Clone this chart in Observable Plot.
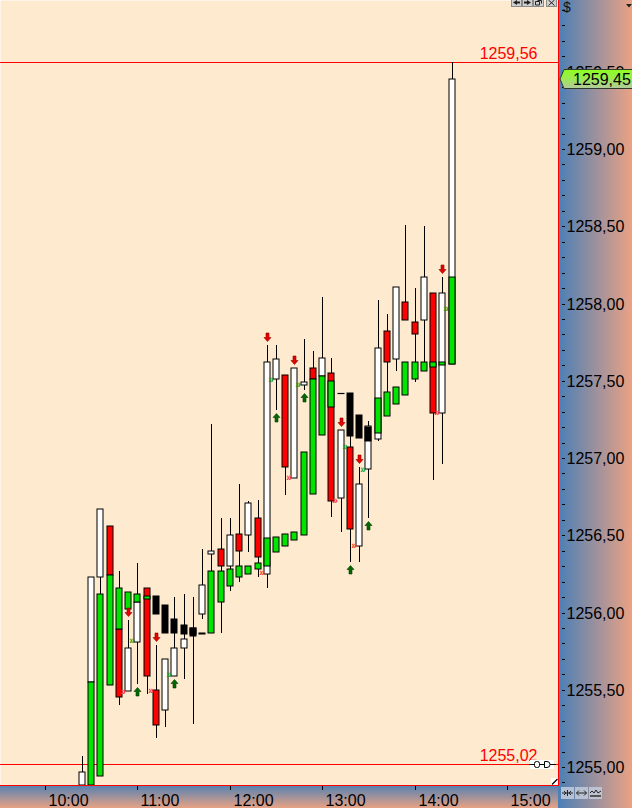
<!DOCTYPE html>
<html>
<head>
<meta charset="utf-8">
<script src="https://cdn.jsdelivr.net/npm/d3@7"></script>
<script src="https://cdn.jsdelivr.net/npm/@observablehq/plot@0.6"></script>
<style>
  html, body { margin: 0; padding: 0; background: #fff; }
  #chart { width: 632px; height: 808px; overflow: hidden; }
</style>
</head>
<body>
<div id="chart"></div>
<script>
// 6-minute bars, session of the day
const barTimes = [
  "10:24", "10:30", "10:36", "10:42", "10:48", "10:54",
  "11:00", "11:06", "11:12", "11:18", "11:24", "11:30", "11:36", "11:42", "11:48", "11:54",
  "12:00", "12:06", "12:12", "12:18", "12:24", "12:30", "12:36", "12:42", "12:48", "12:54",
  "13:00", "13:06", "13:12", "13:18", "13:24", "13:30", "13:36", "13:42", "13:48", "13:54",
  "14:00", "14:06", "14:12", "14:18", "14:24"
];

// Main price candles (white = up, red = down)
const mainOpen = [1254.80, 1255.55, 1256.23, 1256.56, 1255.89, 1255.49, 1255.81, 1256.16, 1255.50, 1255.37,
  1255.59, 1255.77, 1255.86, 1255.99, 1256.38, 1256.41, 1256.30, 1256.51, 1256.50, 1256.61,
  1256.25, 1257.51, 1257.54, 1256.87, 1257.47, 1257.58, 1257.53, 1257.55, 1256.74, 1257.07,
  1256.43, 1256.93, 1257.12, 1257.82, 1257.64, 1258.01, 1257.88, 1257.89, 1258.07, 1257.29, 1257.61];
const mainClose = [1254.97, 1256.23, 1256.67, 1256.24, 1255.45, 1255.77, 1256.07, 1255.59, 1255.27, 1255.70,
  1255.77, 1255.83, 1255.90, 1256.18, 1256.40, 1256.30, 1256.50, 1256.40, 1256.71, 1256.36,
  1257.62, 1257.64, 1256.94, 1257.58, 1257.49, 1257.51, 1257.65, 1256.72, 1257.18, 1256.54,
  1256.83, 1257.21, 1257.71, 1257.62, 1258.11, 1257.89, 1257.80, 1258.17, 1257.29, 1258.07, 1259.45];
const mainHigh = [1255.07, 1256.23, 1256.67, 1256.56, 1256.27, 1255.95, 1256.32, 1256.16, 1255.79, 1255.70,
  1256.10, 1256.12, 1256.10, 1256.41, 1257.22, 1256.61, 1256.61, 1256.83, 1256.72, 1256.73,
  1257.73, 1257.73, 1257.54, 1257.58, 1257.77, 1257.69, 1258.04, 1257.65, 1257.18, 1257.14,
  1256.94, 1257.24, 1258.02, 1257.93, 1258.11, 1258.51, 1258.10, 1258.50, 1258.07, 1258.17, 1259.56];
const mainLow = [1254.80, 1255.55, 1256.12, 1256.24, 1255.40, 1255.49, 1255.54, 1255.47, 1255.19, 1255.26,
  1255.59, 1255.57, 1255.28, 1255.96, 1256.27, 1255.87, 1256.14, 1256.20, 1256.39, 1256.23,
  1256.16, 1257.31, 1256.76, 1256.87, 1257.44, 1257.51, 1257.53, 1256.62, 1256.52, 1256.33,
  1256.33, 1256.61, 1257.11, 1257.27, 1257.56, 1257.89, 1257.49, 1257.56, 1256.86, 1256.96, 1257.61];

// Overlay candles (green = up, black = down)
const secOpen = [null, 1254.75, 1254.94, 1255.53, 1255.89, 1256.02, 1256.07, 1256.09, 1256.11, 1256.05,
  1255.96, 1255.92, 1255.90, 1255.87, 1255.87, 1256.07, 1256.17, 1256.23, 1256.25, 1256.28,
  1256.30, 1256.39, 1256.43, 1256.47, 1256.50, 1256.77, 1257.15, 1257.33, 1257.42, 1257.42,
  1257.28, 1257.20, 1257.16, 1257.27, 1257.35, 1257.41, 1257.51, 1257.56, 1257.59, 1257.60, 1257.61];
const secClose = [null, 1255.55, 1256.12, 1256.24, 1256.16, 1256.13, 1256.12, 1256.11, 1255.99, 1255.87,
  1255.87, 1255.86, 1255.85, 1255.86, 1256.27, 1256.27, 1256.28, 1256.30, 1256.30, 1256.32,
  1256.48, 1256.49, 1256.51, 1256.52, 1257.04, 1257.51, 1257.53, 1257.50, 1257.42, 1257.14,
  1257.13, 1257.11, 1257.39, 1257.43, 1257.46, 1257.62, 1257.62, 1257.62, 1257.62, 1257.62, 1258.17];

// Signal arrows (bar indexes)
const sellBars = [5, 8, 20, 23, 28, 30, 39];
const buyBars = [6, 10, 21, 24, 29, 31];

// Small chevron marks (bar index and price)
const buyMarkBars = [5, 9, 20, 23, 28, 30, 39];
const buyMarkPrice = [1255.82, 1255.60, 1257.51, 1257.48, 1257.08, 1256.93, 1257.97];
const sellMarkBars = [4, 7, 19, 22, 27, 29, 38];
const sellMarkPrice = [1255.49, 1255.50, 1256.26, 1256.88, 1256.73, 1256.44, 1257.30];

// Horizontal price levels and last price
const levelValues = [1259.56, 1255.02];
const lastPrice = 1259.45;

// Axis labels
const hourLabels = ["10:00", "11:00", "12:00", "13:00", "14:00", "15:00"];
const priceLabels = ["1255,00", "1255,50", "1256,00", "1256,50", "1257,00",
  "1257,50", "1258,00", "1258,50", "1259,00", "1259,50"];

const CREAM = "#fdeacf";
const UP_MAIN = "#ffffff", DOWN_MAIN = "#ff0000";
const UP_SEC = "#00e400", DOWN_SEC = "#000000";

const toMinutes = s => { const [h, m] = s.split(":").map(Number); return h * 60 + m; };
const fmtPrice = v => v.toFixed(2).replace(".", ",");
const parsePrice = s => +s.replace(",", ".");

const bars = barTimes.map((s, i) => ({
  t: toMinutes(s),
  open: mainOpen[i], close: mainClose[i], high: mainHigh[i], low: mainLow[i],
  sOpen: secOpen[i], sClose: secClose[i]
}));
const secBars = bars.filter(d => d.sOpen != null && d.sOpen !== d.sClose);
const secFlat = bars.filter(d => d.sOpen != null && d.sOpen === d.sClose);
const sellSignals = sellBars.map(i => bars[i]);
const buySignals = buyBars.map(i => bars[i]);
const buyMarks = buyMarkBars.map((i, j) => ({t: bars[i].t, price: buyMarkPrice[j]}));
const sellMarks = sellMarkBars.map((i, j) => ({t: bars[i].t, price: sellMarkPrice[j]}));

const hourTicks = hourLabels.map(toMinutes);
const hourLabelOf = new Map(hourTicks.map((t, i) => [t, hourLabels[i]]));
const majorPrices = priceLabels.map(parsePrice);
const majorLabelOf = new Map(majorPrices.map((v, i) => [v.toFixed(1), priceLabels[i]]));
const priceTicks = d3.range(12549, 12600).map(d => d / 10);

// Arrow glyphs for signal markers
const arrowDown = {
  draw(ctx) {
    ctx.moveTo(-1.5, -4.5); ctx.lineTo(1.5, -4.5); ctx.lineTo(1.5, 0);
    ctx.lineTo(3.5, 0); ctx.lineTo(0, 4); ctx.lineTo(-3.5, 0); ctx.lineTo(-1.5, 0);
    ctx.closePath();
  }
};
const arrowUp = {
  draw(ctx) {
    ctx.moveTo(-1.5, 4.5); ctx.lineTo(1.5, 4.5); ctx.lineTo(1.5, 0);
    ctx.lineTo(3.5, 0); ctx.lineTo(0, -4); ctx.lineTo(-3.5, 0); ctx.lineTo(-1.5, 0);
    ctx.closePath();
  }
};

// Gradient panels behind the axes
const backdrop = (index, scales, values, dims) => {
  const {width, height, marginRight, marginBottom} = dims;
  const px = width - marginRight, py = height - marginBottom;
  const g = d3.create("svg:g");
  const defs = g.append("defs");
  const a = defs.append("linearGradient").attr("id", "price-panel-grad")
    .attr("x1", 0).attr("x2", 1).attr("y1", 0).attr("y2", 0);
  a.append("stop").attr("offset", 0).attr("stop-color", "#4a7fb6");
  a.append("stop").attr("offset", 1).attr("stop-color", "#eba284");
  const b = defs.append("linearGradient").attr("id", "time-band-grad")
    .attr("x1", 0).attr("x2", 0).attr("y1", 0).attr("y2", 1);
  b.append("stop").attr("offset", 0).attr("stop-color", "#5281b2");
  b.append("stop").attr("offset", 1).attr("stop-color", "#e8a285");
  const c = defs.append("linearGradient").attr("id", "last-tag-grad")
    .attr("x1", 0).attr("x2", 0).attr("y1", 0).attr("y2", 1);
  c.append("stop").attr("offset", 0).attr("stop-color", "#8cff1e");
  c.append("stop").attr("offset", 0.55).attr("stop-color", "#9ee65a");
  c.append("stop").attr("offset", 1).attr("stop-color", "#b3c9a0");
  g.append("rect").attr("x", px).attr("y", 0).attr("width", width - px).attr("height", height)
    .attr("fill", "url(#price-panel-grad)");
  g.append("rect").attr("x", 0).attr("y", py).attr("width", px).attr("height", height - py)
    .attr("fill", "url(#time-band-grad)");
  return g.node();
};

// Window chrome, borders and the last-price tag
const chrome = (index, scales, values, dims) => {
  const {width, height, marginRight, marginBottom} = dims;
  const px = width - marginRight, py = height - marginBottom;
  const g = d3.create("svg:g").attr("text-anchor", "start");
  // red borders of the price area
  g.append("line").attr("x1", px + 0.5).attr("x2", px + 0.5).attr("y1", 0).attr("y2", py + 1)
    .attr("stroke", "#ff0000");
  g.append("line").attr("x1", 0).attr("x2", px + 1).attr("y1", py + 0.5).attr("y2", py + 0.5)
    .attr("stroke", "#ff0000");

  // last price tag
  const yc = scales.y(lastPrice);
  g.append("path")
    .attr("d", `M${px + 2},${yc} L${px + 6},${yc - 9.5} H${width + 2} V${yc + 9.5} H${px + 6} Z`)
    .attr("fill", "url(#last-tag-grad)").attr("stroke", "#2f3a2a").attr("stroke-width", 1);
  g.append("text").attr("x", px + 15).attr("y", yc).attr("dy", "0.36em")
    .attr("text-anchor", "start").attr("font-size", 16).attr("fill", "#000").text(fmtPrice(lastPrice));

  // window buttons, top right of the price area
  const btn = g.append("g");
  [[px - 47, "left"], [px - 36, "right"], [px - 25, "restore"], [px - 12, "close"]].forEach(([x, kind]) => {
    btn.append("rect").attr("x", x + 0.5).attr("y", -1.5).attr("width", 10).attr("height", 8)
      .attr("fill", "#cfcfcf").attr("stroke", "#8a8a8a");
    if (kind === "left") btn.append("path").attr("d", `M${x + 2},${2.5} L${x + 6},0 V5 Z M${x + 6},1.5 H${x + 9} V3.5 H${x + 6} Z`).attr("fill", "#222");
    if (kind === "right") btn.append("path").attr("d", `M${x + 9},${2.5} L${x + 5},0 V5 Z M${x + 2},1.5 H${x + 5} V3.5 H${x + 2} Z`).attr("fill", "#222");
    if (kind === "restore") btn.append("path").attr("d", `M${x + 2.5},1.5 h4 v3.5 h-4 Z M${x + 4.5},0.5 h4 v3 `).attr("fill", "none").attr("stroke", "#222");
    if (kind === "close") btn.append("path").attr("d", `M${x + 2.5},0 L${x + 8.5},5.5 M${x + 8.5},0 L${x + 2.5},5.5`).attr("stroke", "#222");
  });
  g.append("text").attr("x", px + 5).attr("y", 12).attr("text-anchor", "start")
    .attr("font-size", 14).attr("fill", "#111").text("$");
  g.append("path").attr("d", `M${width - 6},4 h6 l-3,3.5 Z`).attr("fill", "#222");

  // marker at the right end of the lower level line
  const yl = scales.y(levelValues[1]) + 0.5;
  const m = g.append("g");
  m.append("rect").attr("x", px - 28).attr("y", yl - 4.5).attr("width", 24).attr("height", 9).attr("fill", "#fff");
  m.append("line").attr("x1", px - 29).attr("x2", px - 2).attr("y1", yl).attr("y2", yl).attr("stroke", "#000");
  m.append("rect").attr("x", px - 23.5).attr("y", yl - 3).attr("width", 5).attr("height", 6).attr("rx", 2)
    .attr("fill", "#fff").attr("stroke", "#000");
  m.append("path").attr("d", `M${px - 13.5},${yl - 3} h2.5 a3,3 0 0 1 0,6 h-2.5 Z`)
    .attr("fill", "#fff").attr("stroke", "#000");

  // resize grip in the corner
  g.append("rect").attr("x", px - 7).attr("y", py - 7).attr("width", 7).attr("height", 7).attr("fill", "#fff");
  g.append("path").attr("d", `M${px - 6},${py - 0.5} L${px - 0.5},${py - 6}`).attr("stroke", "#000").attr("stroke-width", 1.2);

  // scroll/zoom buttons below the price axis
  const tb = g.append("g");
  [0, 14, 28].forEach((o, i) => {
    const x = px + 3 + o;
    tb.append("rect").attr("x", x).attr("y", py + 2).attr("width", 13).attr("height", 12)
      .attr("fill", "#c3cbdb").attr("fill-opacity", 0.85);
    const ym = py + 8;
    if (i === 0) tb.append("path").attr("d", `M${x + 1},${ym} H${x + 12} M${x + 3},${ym - 2} L${x + 5},${ym} L${x + 3},${ym + 2} M${x + 10},${ym - 2} L${x + 8},${ym} L${x + 10},${ym + 2} M${x + 6.5},${ym - 3} V${ym + 3}`).attr("stroke", "#222").attr("fill", "none");
    if (i === 1) tb.append("path").attr("d", `M${x + 1.5},${ym} H${x + 11.5} M${x + 4},${ym - 2.5} L${x + 1.5},${ym} L${x + 4},${ym + 2.5} M${x + 9},${ym - 2.5} L${x + 11.5},${ym} L${x + 9},${ym + 2.5}`).attr("stroke", "#222").attr("fill", "none");
    if (i === 2) {
      tb.append("path").attr("d", `M${x + 1},${ym} L${x + 3},${ym - 2} L${x + 5},${ym} L${x + 7},${ym - 3} L${x + 9},${ym} L${x + 12},${ym - 2}`).attr("stroke", "#222").attr("fill", "none");
      tb.append("rect").attr("x", x + 1).attr("y", ym + 2).attr("width", 11).attr("height", 2).attr("fill", "#555");
    }
  });
  return g.node();
};

const chart = Plot.plot({
  width: 632,
  height: 808,
  marginLeft: 0,
  marginRight: 74,
  marginTop: 0,
  marginBottom: 23,
  style: {fontFamily: "'Liberation Sans', Arial, sans-serif", fontSize: "16px", background: "transparent", overflow: "visible"},
  x: {type: "linear", domain: [570.8, 933.1], round: true, label: null},
  y: {domain: [1254.8835, 1259.9644], round: true, clamp: true, label: null},
  marks: [
    backdrop,
    Plot.frame({fill: CREAM, stroke: "none"}),
    Plot.ruleY(levelValues, {stroke: "#ff0000", strokeWidth: 1}),
    // wicks
    Plot.ruleX(bars, {x: "t", y1: "low", y2: "high", stroke: "#000", strokeWidth: 1}),
    // main bodies
    Plot.rect(bars, {
      x1: "t", x2: "t", y1: "open", y2: "close", insetLeft: -3, insetRight: -3,
      fill: d => d.close >= d.open ? UP_MAIN : DOWN_MAIN, stroke: "#000", strokeWidth: 1
    }),
    // overlay bodies
    Plot.rect(secBars, {
      x1: "t", x2: "t", y1: "sOpen", y2: "sClose", insetLeft: -3, insetRight: -3,
      fill: d => d.sClose > d.sOpen ? UP_SEC : DOWN_SEC, stroke: "#000", strokeWidth: 1
    }),
    Plot.ruleY(secFlat, {y: "sOpen", x1: "t", x2: "t", insetLeft: -3.5, insetRight: -3.5, stroke: "#000", strokeWidth: 1.2}),
    // chevron marks
    Plot.text(buyMarks, {x: "t", y: "price", text: () => "»", fill: "#149a14", fontSize: 10, fontWeight: "bold", dx: 3.5}),
    Plot.text(sellMarks, {x: "t", y: "price", text: () => "»", fill: "#ff3030", fontSize: 10, fontWeight: "bold", dx: 3.5}),
    // signal arrows
    Plot.dot(sellSignals, {x: "t", y: "high", symbol: arrowDown, r: 4, fill: "#e80000", stroke: "#8c0000", strokeWidth: 0.6, dy: -8}),
    Plot.dot(buySignals, {x: "t", y: "low", symbol: arrowUp, r: 4, fill: "#006a00", stroke: "#003c00", strokeWidth: 0.6, dy: 7}),
    // level labels
    Plot.text(levelValues, {
      y: d => d, text: fmtPrice, frameAnchor: "right", textAnchor: "end", lineAnchor: "bottom",
      dx: -21, dy: -4, fill: "#ff0000", fontSize: 16
    }),
    // time axis: ticks, then labels to the right of each tick
    Plot.axisX({anchor: "bottom", ticks: hourTicks, tickSize: 4, dy: 1, tickFormat: () => "", label: null}),
    Plot.axisX({
      anchor: "bottom", ticks: hourTicks, tickSize: 0, tickPadding: 9, dx: 3, textAnchor: "start",
      tickFormat: d => hourLabelOf.get(d), fontSize: 16, label: null
    }),
    // price axis with minor ticks every 0.10
    Plot.axisY({
      anchor: "right", ticks: priceTicks, tickSize: 3, tickPadding: 2, dx: 3,
      tickFormat: d => majorLabelOf.get(d.toFixed(1)) ?? "", fontSize: 16, label: null
    }),
    chrome
  ]
});

document.getElementById("chart").append(chart);
</script>
</body>
</html>
